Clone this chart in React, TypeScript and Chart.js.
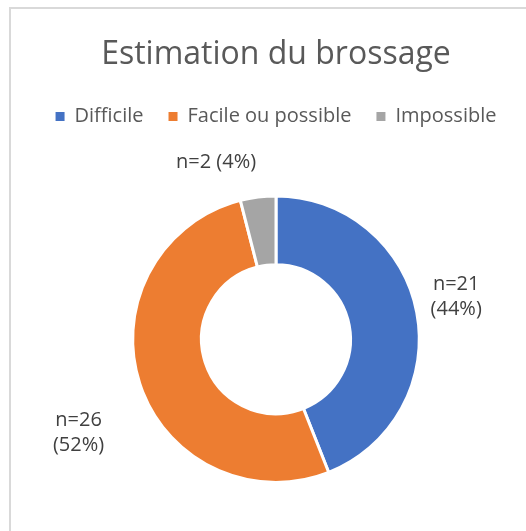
import React, { useEffect, useRef } from 'react';
import { Chart, registerables, layouts } from 'chart.js';

Chart.register(...registerables);

const chartTitle = 'Estimation du brossage';
const categories = ['Difficile', 'Facile ou possible', 'Impossible'];
const counts = [21, 26, 2];
const percents = [44, 52, 4];
const colors = ['#4472C4', '#ED7D31', '#A5A5A5'];
const wrapLabel = [true, true, false];

const FONT = '"Open Sans", "Noto Sans", sans-serif';

const spacerPlugin = {
  id: 'spacer',
  beforeInit(chart: any, _args: any, opts: any) {
    const h = (opts && opts.height) || 0;
    const box: any = {
      position: 'top',
      weight: -100,
      fullSize: true,
      options: {},
      left: 0, top: 0, right: 0, bottom: 0, width: 0, height: 0,
      update(maxWidth: number) {
        this.width = maxWidth;
        this.height = h;
      },
      isHorizontal() { return true; },
      getPadding() { return { left: 0, top: 0, right: 0, bottom: 0 }; },
      draw() {},
    };
    layouts.addBox(chart, box);
  },
};

const sliceLabelPlugin = {
  id: 'sliceLabels',
  afterDatasetsDraw(chart: any, _args: any, opts: any) {
    const ctx = chart.ctx;
    const meta = chart.getDatasetMeta(0);
    ctx.save();
    ctx.font = `${opts.size}px ${FONT}`;
    ctx.fillStyle = opts.color;
    ctx.textAlign = 'center';
    ctx.textBaseline = 'middle';
    meta.data.forEach((arc: any, i: number) => {
      const p = arc.getProps(['x', 'y', 'startAngle', 'endAngle', 'outerRadius'], true);
      const mid = (p.startAngle + p.endAngle) / 2;
      const r = p.outerRadius * opts.radiusFactor;
      const off = opts.offsets[i] || [0, 0];
      const cx = p.x + Math.cos(mid) * r + off[0];
      const cy = p.y + Math.sin(mid) * r + off[1];
      const lines = wrapLabel[i]
        ? [`n=${counts[i]}`, `(${percents[i]}%)`]
        : [`n=${counts[i]} (${percents[i]}%)`];
      lines.forEach((t, k) => {
        ctx.fillText(t, cx, cy + (k - (lines.length - 1) / 2) * opts.lineHeight);
      });
    });
    ctx.restore();
  },
};

export default function App() {
  const ref = useRef<HTMLCanvasElement | null>(null);

  useEffect(() => {
    if (!ref.current) return;
    const chart = new Chart(ref.current, {
      type: 'doughnut',
      data: {
        labels: categories,
        datasets: [
          {
            data: percents,
            backgroundColor: colors,
            borderColor: '#ffffff',
            borderWidth: 3,
          },
        ],
      },
      options: {
        animation: false,
        responsive: false,
        cutout: '52%',
        layout: { padding: { top: 0, bottom: 47, left: 0, right: 0 } },
        plugins: {
          title: {
            display: true,
            text: chartTitle,
            color: '#595959',
            font: { family: FONT, size: 32, weight: 'normal' },
            padding: { top: 27, bottom: 7 },
          },
          legend: {
            display: true,
            position: 'top',
            labels: {
              color: '#595959',
              font: { family: FONT, size: 20 },
              boxWidth: 9,
              boxHeight: 9,
              padding: 25,
              generateLabels(c: any) {
                const items = Chart.overrides.doughnut.plugins.legend.labels.generateLabels(c);
                return items.map((it: any) => ({ ...it, strokeStyle: it.fillStyle, lineWidth: 0 }));
              },
            },
          },
          tooltip: { enabled: false },
          spacer: { height: 58 },
          sliceLabels: {
            size: 20,
            color: '#404040',
            lineHeight: 25,
            radiusFactor: 1.28,
            offsets: [[0, -8], [-23, 37], [-37, 5]],
          },
        } as any,
      },
      plugins: [spacerPlugin, sliceLabelPlugin],
    });
    return () => chart.destroy();
  }, []);

  return (
    <div style={{ position: 'fixed', inset: 0, overflow: 'hidden', background: '#fff' }}>
      <div
        style={{
          position: 'absolute',
          left: 9,
          top: 7,
          width: 540,
          height: 540,
          borderLeft: '2px solid #d9d9d9',
          borderTop: '2px solid #d9d9d9',
        }}
      >
        <canvas ref={ref} width={530} height={522} style={{ display: 'block' }} />
      </div>
    </div>
  );
}
